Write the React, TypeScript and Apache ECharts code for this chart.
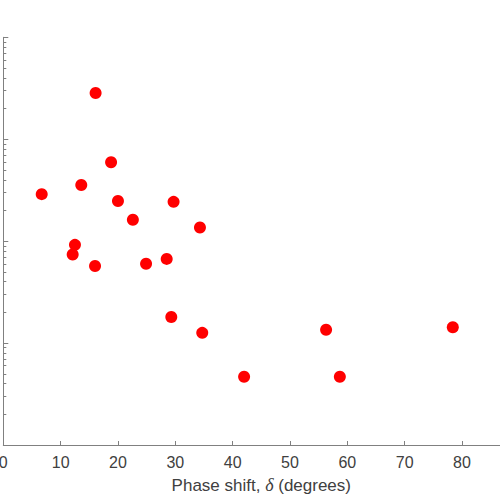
import React, { useEffect, useRef } from "react";
import * as echarts from "echarts";

const phaseShift = [16.1, 18.8, 13.6, 6.7, 20.0, 29.7, 22.6, 34.3, 12.5, 12.1, 16.0, 24.9, 28.5, 29.3, 34.7, 56.3, 78.4, 42.0, 58.7];
const yValues = [2840, 595, 356, 289, 248, 243, 162, 136, 92, 74, 57, 60, 67, 18, 12.6, 13.5, 14.3, 4.67, 4.67];
const xTicks = [0, 10, 20, 30, 40, 50, 60, 70, 80, 90];
const minorTicks = [2, 3, 4, 5, 6, 7, 8, 9, 20, 30, 40, 50, 60, 70, 80, 90, 200, 300, 400, 500, 600, 700, 800, 900, 2000, 3000, 4000, 5000, 6000, 7000, 8000, 9000];

export default function App() {
  const ref = useRef<HTMLDivElement>(null);
  useEffect(() => {
    if (!ref.current) return;
    const chart = echarts.init(ref.current, null, { renderer: "svg" });
    const axisColor = "#808080";
    const textColor = "#404040";
    chart.setOption({
      animation: false,
      backgroundColor: "#ffffff",
      grid: { left: 3.3, top: 37.3, bottom: 55, right: -19.3, outerBoundsMode: "none", containLabel: false },
      xAxis: {
        type: "value",
        min: xTicks[0],
        max: xTicks[xTicks.length - 1],
        interval: 10,
        axisLine: { show: true, lineStyle: { color: axisColor, width: 1 } },
        axisTick: { show: true, inside: true, length: 4, lineStyle: { color: axisColor } },
        axisLabel: { color: textColor, fontSize: 16, fontFamily: "Liberation Sans", margin: 9, showMinLabel: true, showMaxLabel: false },
        splitLine: { show: false },
        name: "Phase shift, {i|δ} (degrees)",
        nameLocation: "middle",
        nameGap: 31,
        nameTextStyle: {
          color: textColor,
          fontSize: 17,
          fontFamily: "Liberation Sans",
          rich: { i: { fontStyle: "italic", fontFamily: "Liberation Serif", fontSize: 18, color: textColor } },
        },
      },
      yAxis: [
        {
          type: "log",
          logBase: 10,
          min: 1,
          max: 10000,
          axisLine: { show: true, lineStyle: { color: axisColor, width: 1 } },
          axisTick: { show: true, inside: true, length: 5, lineStyle: { color: axisColor } },
          axisLabel: { show: false },
          splitLine: { show: false },
        },
        {
          type: "log",
          logBase: 10,
          min: 1,
          max: 10000,
          position: "left",
          offset: 0,
          axisLine: { show: false },
          axisTick: { show: true, inside: true, length: 3, customValues: minorTicks, lineStyle: { color: axisColor } },
          axisLabel: { show: false },
          splitLine: { show: false },
        },
      ],
      series: [
        {
          type: "scatter",
          yAxisIndex: 0,
          symbol: "circle",
          symbolSize: 12,
          itemStyle: { color: "#ff0000", opacity: 1 },
          data: phaseShift.map((x, i) => [x, yValues[i]]),
        },
      ],
    });
    return () => chart.dispose();
  }, []);
  return <div ref={ref} style={{ position: "fixed", left: 0, top: 0, width: 500, height: 500 }} />;
}
